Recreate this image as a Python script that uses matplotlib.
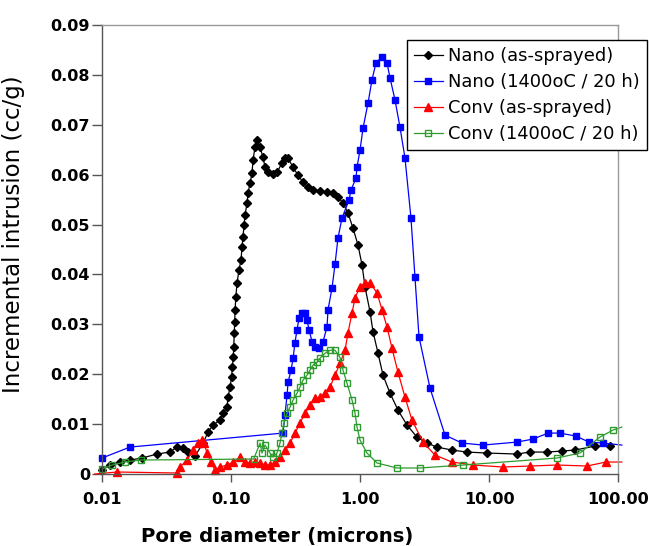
import numpy as np
import matplotlib
matplotlib.use('Agg')
import matplotlib.pyplot as plt
from matplotlib.ticker import FixedLocator, FixedFormatter

# Pore diameter (microns) / incremental intrusion (cc/g)
nano_x = [0.0100, 0.0115, 0.0138, 0.0165, 0.0204, 0.0267, 0.0337, 0.0381, 0.0425, 0.0464,
          0.0526, 0.0607, 0.0664, 0.0725, 0.0822, 0.0867, 0.0931, 0.0948, 0.0982, 0.1010,
          0.1025, 0.1040, 0.1050, 0.1060, 0.1068, 0.1076, 0.1090, 0.1114, 0.1153, 0.1196,
          0.1217, 0.1239, 0.1262, 0.1284, 0.1331, 0.1355, 0.1404, 0.1455, 0.1481, 0.1535,
          0.1591, 0.1679, 0.1771, 0.1836, 0.1936, 0.2117, 0.2274, 0.2485, 0.2623, 0.2767,
          0.3025, 0.3306, 0.3614, 0.3951, 0.4320, 0.4898, 0.5552, 0.6180, 0.6752, 0.7382,
          0.8071, 0.8823, 0.9646, 1.037, 1.094, 1.196, 1.262, 1.380, 1.508, 1.709,
          1.971, 2.314, 2.766, 3.305, 3.951, 5.164, 6.749, 9.64, 16.48, 20.8,
          28.2, 36.8, 46.4, 66.4, 86.7]
nano_y = [0.0008, 0.0018, 0.0024, 0.0028, 0.0032, 0.0040, 0.0044, 0.0054, 0.0052, 0.0044,
          0.0036, 0.0062, 0.0084, 0.0098, 0.0108, 0.0122, 0.0134, 0.0154, 0.0174, 0.0194,
          0.0214, 0.0234, 0.0254, 0.0283, 0.0305, 0.0329, 0.0355, 0.0383, 0.0409, 0.0429,
          0.0455, 0.0475, 0.0499, 0.0519, 0.0543, 0.0563, 0.0583, 0.0603, 0.0629, 0.0655,
          0.0669, 0.0655, 0.0635, 0.0615, 0.0605, 0.0601, 0.0605, 0.0623, 0.0633, 0.0633,
          0.0615, 0.0599, 0.0585, 0.0575, 0.0569, 0.0567, 0.0565, 0.0563, 0.0555, 0.0543,
          0.0523, 0.0493, 0.0459, 0.0419, 0.0375, 0.0325, 0.0285, 0.0242, 0.0198, 0.0162,
          0.0128, 0.0098, 0.0074, 0.0062, 0.0054, 0.0048, 0.0044, 0.0042, 0.0040, 0.0044,
          0.0044, 0.0046, 0.0048, 0.0056, 0.0056]

nano_hot_x = [0.0100, 0.0165, 0.253, 0.262, 0.272, 0.277, 0.292, 0.303, 0.313, 0.325,
              0.337, 0.355, 0.375, 0.388, 0.403, 0.425, 0.448, 0.481, 0.517, 0.555,
              0.565, 0.607, 0.640, 0.675, 0.725, 0.822, 0.851, 0.931, 0.948, 1.000,
              1.055, 1.153, 1.239, 1.330, 1.482, 1.619, 1.709, 1.867, 2.042, 2.233,
              2.484, 2.667, 2.866, 3.49, 4.56, 6.18, 8.98, 16.5, 21.9, 28.7,
              35.5, 47.2, 59.6, 76.6, 107.0]
nano_hot_y = [0.0032, 0.0054, 0.0082, 0.0118, 0.0158, 0.0184, 0.0208, 0.0232, 0.0263, 0.0289,
              0.0313, 0.0323, 0.0323, 0.0309, 0.0289, 0.0265, 0.0255, 0.0252, 0.0265, 0.0295,
              0.0329, 0.0373, 0.0420, 0.0473, 0.0513, 0.0549, 0.0569, 0.0593, 0.0615, 0.0649,
              0.0693, 0.0743, 0.0790, 0.0824, 0.0836, 0.0824, 0.0794, 0.0750, 0.0695, 0.0633,
              0.0513, 0.0395, 0.0275, 0.0172, 0.0078, 0.0062, 0.0058, 0.0064, 0.0070, 0.0082,
              0.0082, 0.0076, 0.0064, 0.0062, 0.0058]

conv_x = [0.0088, 0.0131, 0.0381, 0.0402, 0.0456, 0.0508, 0.0555, 0.0596, 0.0618, 0.0652,
          0.0700, 0.0751, 0.0822, 0.0931, 0.1037, 0.1174, 0.1284, 0.1404, 0.1535, 0.1679,
          0.1836, 0.2006, 0.2193, 0.2398, 0.2623, 0.2867, 0.3134, 0.3427, 0.3747, 0.4096,
          0.4479, 0.4898, 0.5355, 0.5854, 0.6400, 0.6997, 0.7651, 0.8071, 0.8679, 0.9150,
          1.000, 1.094, 1.196, 1.355, 1.482, 1.619, 1.770, 1.971, 2.233, 2.529,
          3.076, 3.81, 5.16, 7.52, 12.85, 20.8, 33.6, 57.5, 80.7, 107.0]
conv_y = [0.0000, 0.0004, 0.0002, 0.0014, 0.0028, 0.0048, 0.0062, 0.0068, 0.0062, 0.0042,
          0.0024, 0.0008, 0.0014, 0.0018, 0.0024, 0.0034, 0.0024, 0.0022, 0.0024, 0.0022,
          0.0018, 0.0018, 0.0024, 0.0034, 0.0048, 0.0062, 0.0082, 0.0102, 0.0122, 0.0138,
          0.0152, 0.0154, 0.0162, 0.0174, 0.0198, 0.0222, 0.0248, 0.0283, 0.0323, 0.0353,
          0.0375, 0.0383, 0.0383, 0.0363, 0.0329, 0.0295, 0.0252, 0.0204, 0.0154, 0.0108,
          0.0064, 0.0038, 0.0024, 0.0018, 0.0014, 0.0016, 0.0018, 0.0016, 0.0024, 0.0024]

conv_hot_x = [0.0100, 0.0120, 0.0150, 0.0200, 0.1500, 0.1679, 0.1738, 0.1836, 0.2006, 0.2117,
              0.2274, 0.2398, 0.2485, 0.2576, 0.2722, 0.2867, 0.3025, 0.3250, 0.3427, 0.3614,
              0.3882, 0.4096, 0.4320, 0.4641, 0.4898, 0.5355, 0.5854, 0.6400, 0.6997, 0.7382,
              0.7930, 0.8679, 0.9150, 0.9482, 1.000, 1.133, 1.355, 1.935, 2.918, 6.29,
              33.6, 50.7, 72.4, 91.4, 107.0]
conv_hot_y = [0.0010, 0.0018, 0.0024, 0.0028, 0.0030, 0.0062, 0.0042, 0.0058, 0.0042, 0.0034,
              0.0042, 0.0062, 0.0082, 0.0102, 0.0122, 0.0134, 0.0148, 0.0162, 0.0174, 0.0188,
              0.0198, 0.0208, 0.0218, 0.0224, 0.0232, 0.0242, 0.0248, 0.0248, 0.0234, 0.0208,
              0.0182, 0.0148, 0.0122, 0.0094, 0.0068, 0.0042, 0.0022, 0.0012, 0.0012, 0.0018,
              0.0032, 0.0042, 0.0074, 0.0088, 0.0094]

x_ticks = [0.01, 0.1, 1, 10, 100]
x_tick_labels = ['0.01', '0.10', '1.00', '10.00', '100.00']
y_ticks = [0, 0.01, 0.02, 0.03, 0.04, 0.05, 0.06, 0.07, 0.08, 0.09]
y_tick_labels = ['0', '0.01', '0.02', '0.03', '0.04', '0.05', '0.06', '0.07', '0.08', '0.09']

series = [
    (nano_x, nano_y, 'Nano (as-sprayed)', 'black', 'D', 4.0, 'black'),
    (nano_hot_x, nano_hot_y, 'Nano (1400oC / 20 h)', '#0000FF', 's', 5.0, '#0000FF'),
    (conv_x, conv_y, 'Conv (as-sprayed)', '#FF0000', '^', 6.0, '#FF0000'),
    (conv_hot_x, conv_hot_y, 'Conv (1400oC / 20 h)', '#2E9B2E', 's', 5.0, 'none'),
]

fig = plt.figure(figsize=(6.49, 5.46), dpi=100)
ax = fig.add_axes([102 / 649, 72 / 546, 516 / 649, 449 / 546])

for xs, ys, label, color, marker, ms, mfc in series:
    xs = np.array(xs)
    # points just past the axis ends carry the line only, no marker
    inside = list((xs >= 0.0099) & (xs <= 101))
    ax.plot(xs, ys, color=color, lw=0.9, marker=marker, markersize=ms,
            markerfacecolor=mfc, markeredgecolor=color, markeredgewidth=1.0,
            markevery=inside, label=label, clip_on=False)

ax.set_xscale('log')
ax.set_xlim(0.01, 100)
ax.set_ylim(0, 0.09)
ax.xaxis.set_major_locator(FixedLocator(x_ticks))
ax.xaxis.set_major_formatter(FixedFormatter(x_tick_labels))
ax.xaxis.set_minor_locator(FixedLocator([]))
ax.set_yticks(y_ticks)
ax.set_yticklabels(y_tick_labels)

for lab in ax.get_xticklabels() + ax.get_yticklabels():
    lab.set_fontweight('bold')
    lab.set_fontsize(11.5)

ax.tick_params(axis='x', direction='out', length=6, width=1, color='#555555', pad=7)
ax.tick_params(axis='y', direction='out', length=7, width=1, color='#555555', pad=1.5)

ax.spines['left'].set_color('#555555')
ax.spines['bottom'].set_color('#555555')
ax.spines['top'].set_color('#999999')
ax.spines['right'].set_color('#999999')
for sp in ax.spines.values():
    sp.set_linewidth(1.0)

ax.set_xlabel('Pore diameter (microns)', fontsize=14.2, fontweight='bold')
ax.set_ylabel('Incremental intrusion (cc/g)', fontsize=16.5)
ax.xaxis.set_label_coords(0.339, -0.118)
ax.yaxis.set_label_coords(-0.149, 0.535)

leg = ax.legend(loc='upper left', bbox_to_anchor=(0.591, 0.967), borderaxespad=0,
                fontsize=12.9, frameon=True, fancybox=False, framealpha=1,
                edgecolor='black', handlelength=1.6, handletextpad=0.3,
                labelspacing=0.45, borderpad=0.4)
leg.get_frame().set_linewidth(1.0)

fig.savefig('out.png', dpi=100)
